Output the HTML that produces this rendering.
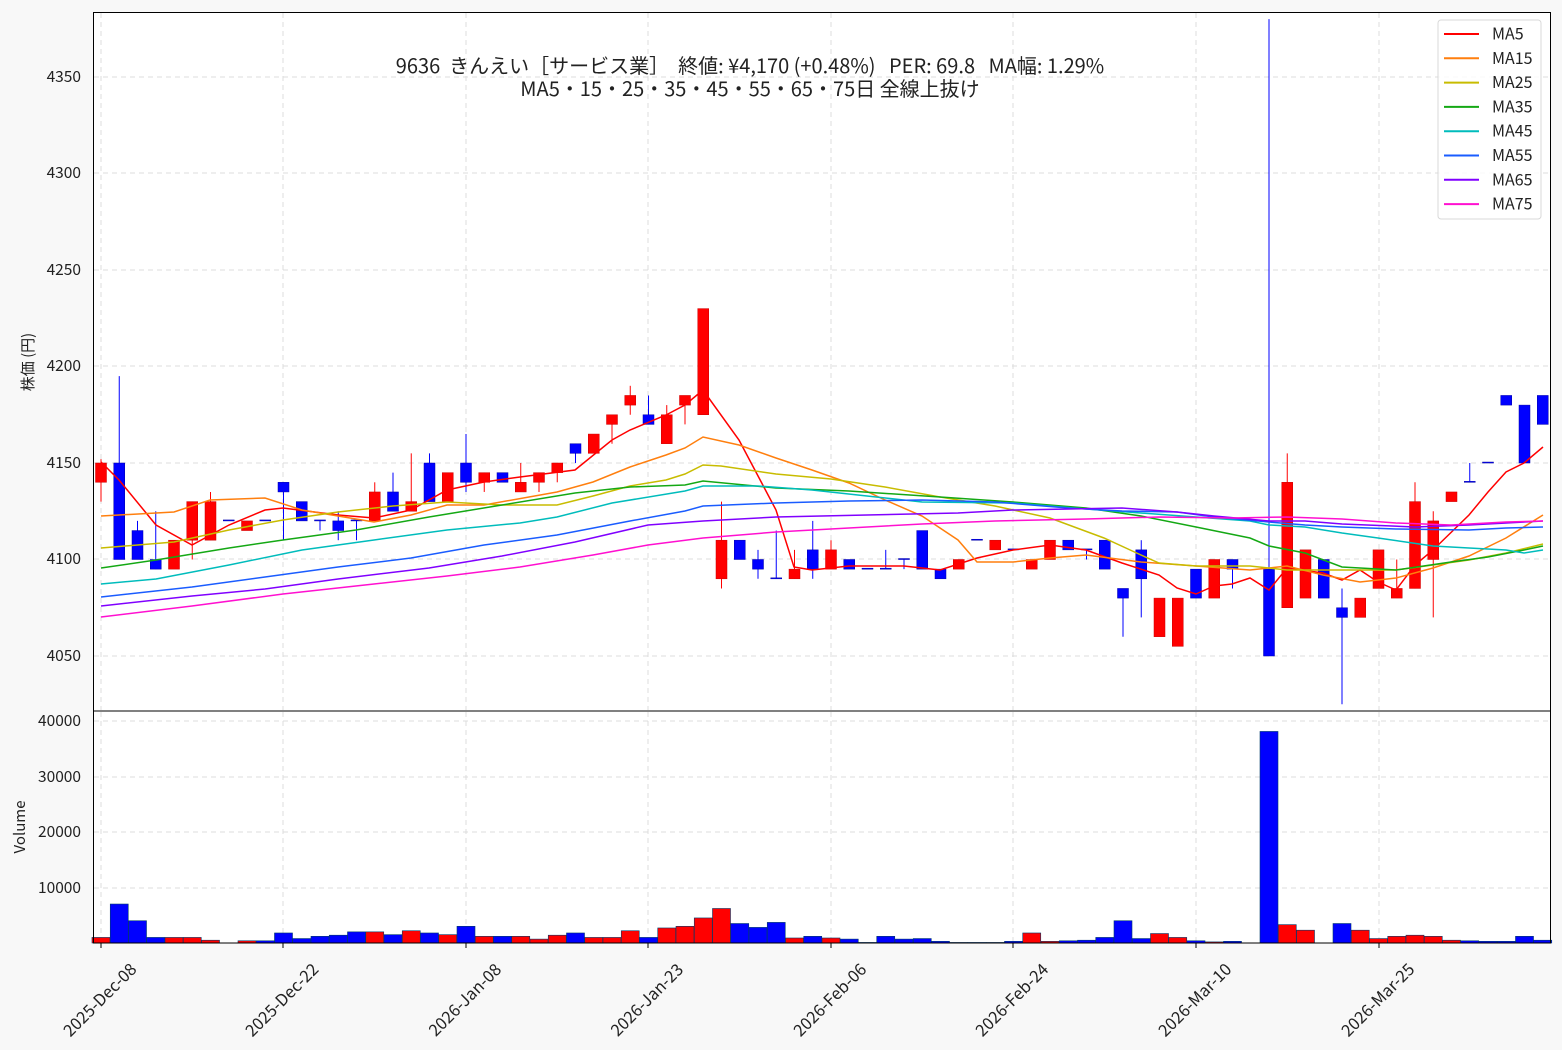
<!DOCTYPE html>
<html><head><meta charset="utf-8"><style>
html,body{margin:0;padding:0;background:#f8f8f8;}
svg{display:block;font-family:"Noto Sans CJK JP","Liberation Sans",sans-serif;}
</style></head><body>
<svg id="s" width="1562" height="1050" xmlns="http://www.w3.org/2000/svg">
<rect x="93" y="12" width="1458" height="931" fill="#fff"/>
<g id="grid" stroke="#dcdcdc" stroke-dasharray="5,4" stroke-width="1"></g>
<g id="vol"></g>
<g id="cand"></g>
<g id="ma" fill="none" stroke-width="1.5"></g>
<rect x="93.5" y="12.5" width="1457" height="698.5" fill="none" stroke="#000"/>
<rect x="93.5" y="711" width="1457" height="232" fill="none" stroke="#000"/>
<g font-size="15.5" fill="#222" text-anchor="end">
<text x="81" y="82">4350</text><text x="81" y="178">4300</text><text x="81" y="275">4250</text>
<text x="81" y="371">4200</text><text x="81" y="468">4150</text><text x="81" y="564">4100</text>
<text x="81" y="661">4050</text>
<text x="81" y="726">40000</text><text x="81" y="782">30000</text><text x="81" y="837">20000</text><text x="81" y="893">10000</text>
</g>
<text transform="translate(33,362) rotate(-90)" font-size="15" text-anchor="middle" fill="#222">株価 (円)</text>
<text transform="translate(25,827) rotate(-90)" font-size="15" text-anchor="middle" fill="#222">Volume</text>
<g font-size="16.5" fill="#222" text-anchor="middle">
<text transform="translate(104,1004) rotate(-45)">2025-Dec-08</text>
<text transform="translate(286,1004) rotate(-45)">2025-Dec-22</text>
<text transform="translate(469,1004) rotate(-45)">2026-Jan-08</text>
<text transform="translate(651,1004) rotate(-45)">2026-Jan-23</text>
<text transform="translate(834,1004) rotate(-45)">2026-Feb-06</text>
<text transform="translate(1016,1004) rotate(-45)">2026-Feb-24</text>
<text transform="translate(1199,1004) rotate(-45)">2026-Mar-10</text>
<text transform="translate(1382,1004) rotate(-45)">2026-Mar-25</text>
</g>
<g font-size="20" fill="#222" text-anchor="middle">
<text x="750" y="73">9636&#160;&#160;きんえい［サービス業］&#160;&#160;終値: ¥4,170 (+0.48%)&#160;&#160;&#160;PER: 69.8&#160;&#160;&#160;MA幅: 1.29%</text>
<text x="750" y="96">MA5・15・25・35・45・55・65・75日 全線上抜け</text>
</g>
<rect x="1438" y="20" width="103" height="199" rx="3" fill="#fff" fill-opacity="0.85" stroke="#d8d8d8"/>
<g id="leg" font-size="16" fill="#222"></g>
</svg>
<script>
const NS="http://www.w3.org/2000/svg";
function el(p,t,a){const e=document.createElementNS(NS,t);for(const k in a)e.setAttribute(k,a[k]);document.getElementById(p).appendChild(e);return e;}
const Y=p=>656-(p-4050)*1.93, X=i=>101+18.25*i, V=v=>943-v*0.005567;
[77,173,270,366,463,559,656,721,777,832,888].forEach(y=>el("grid","line",{x1:94,x2:1550,y1:y,y2:y}));
[101,283,466,648,831,1013,1196,1379].forEach(x=>{el("grid","line",{x1:x,x2:x,y1:13,y2:710});el("grid","line",{x1:x,x2:x,y1:712,y2:942});el("grid","line",{x1:x,x2:x,y1:943,y2:948,stroke:"#000","stroke-dasharray":"none"});});
const C=[["r",4140,4150,4130,4152],["b",4100,4150,4100,4195],["b",4100,4115,4100,4120],["b",4095,4100,4095,4125],["r",4095,4110],["r",4110,4130,4100,4130],["r",4110,4130,4110,4135],["b",4120,4120.5],["r",4115,4120],["b",4120,4120.5],["b",4135,4140,4110,4140],["b",4120,4130],["b",4120,4120.5,4115,4120],["b",4115,4120,4110,4125],["b",4120,4120.5,4110,4120],["r",4120,4135,4120,4140],["b",4125,4135,4125,4145],["r",4125,4130,4125,4155],["b",4130,4150,4130,4155],["r",4130,4145],["b",4140,4150,4135,4165],["r",4140,4145,4135,4145],["b",4140,4145],["r",4135,4140,4135,4150],["r",4140,4145,4135,4145],["r",4145,4150,4140,4150],["b",4155,4160,4150,4160],["r",4155,4165],["r",4170,4175,4160,4175],["r",4180,4185,4175,4190],["b",4170,4175,4170,4185],["r",4160,4175,4160,4180],["r",4180,4185,4170,4185],["r",4175,4230],["r",4090,4110,4085,4130],["b",4100,4110],["b",4095,4100,4090,4105],["b",4090,4090.5,4090,4115],["r",4090,4095,4090,4105],["b",4095,4105,4090,4120],["r",4095,4105,4095,4110],["b",4095,4100],["b",4095,4095.5],["b",4095,4095.5,4095,4105],["b",4100,4100.5,4095,4100],["b",4095,4115],["b",4090,4095],["r",4095,4100],["b",4110,4110.5],["r",4105,4110],["b",4105,4105.5],["r",4095,4100],["r",4100,4110],["b",4105,4110],["b",4105,4105.5,4100,4105],["b",4095,4110],["b",4080,4085,4060,4085],["b",4090,4105,4070,4110],["r",4060,4080],["r",4055,4080],["b",4080,4095],["r",4080,4100],["b",4095,4100,4085,4100],null,["b",4050,4095,4050,4380],["r",4075,4140,4075,4155],["r",4080,4105],["b",4080,4100],["b",4070,4075,4025,4085],["r",4070,4080],["r",4085,4105],["r",4080,4085,4080,4100],["r",4085,4130,4085,4140],["r",4100,4120,4070,4125],["r",4130,4135],["b",4140,4140.5,4140,4150],["b",4150,4150.5],["b",4180,4185],["b",4150,4180],["b",4170,4185]];
C.forEach((c,i)=>{if(!c)return;const col=c[0]=="r"?"#ff0000":"#0000ff",x=X(i);
 if(c[3]!==undefined)el("cand","line",{x1:x,x2:x,y1:Y(c[4]),y2:Y(c[3]),stroke:col,"stroke-width":1});
 const t=Y(c[2]),b=Y(c[1]);el("cand","rect",{x:x-5.5,y:t,width:11,height:Math.max(1,b-t),fill:col,stroke:c[0]=="r"?"#cc0000":"#0000aa","stroke-width":0.5});});
const VO=[[1000,"r"],[7000,"b"],[4000,"b"],[1000,"b"],[1000,"r"],[1000,"r"],[500,"r"],[0,"b"],[400,"r"],[400,"b"],[1800,"b"],[800,"b"],[1200,"b"],[1400,"b"],[2000,"b"],[2000,"r"],[1500,"b"],[2200,"r"],[1800,"b"],[1500,"r"],[3000,"b"],[1200,"r"],[1200,"b"],[1200,"r"],[700,"r"],[1400,"r"],[1800,"b"],[1000,"r"],[1000,"r"],[2200,"r"],[1000,"b"],[2700,"r"],[3000,"r"],[4500,"r"],[6200,"r"],[3500,"b"],[2800,"b"],[3700,"b"],[900,"r"],[1200,"b"],[900,"r"],[700,"b"],[100,"b"],[1200,"b"],[700,"b"],[800,"b"],[300,"b"],[100,"r"],[100,"b"],[100,"r"],[300,"b"],[1800,"r"],[300,"r"],[400,"b"],[500,"b"],[1000,"b"],[4000,"b"],[800,"b"],[1700,"r"],[1000,"r"],[400,"b"],[200,"r"],[300,"b"],[0,"b"],[38000,"b"],[3300,"r"],[2300,"r"],[0,"b"],[3500,"b"],[2300,"r"],[800,"r"],[1200,"r"],[1400,"r"],[1200,"r"],[500,"r"],[400,"b"],[300,"b"],[300,"b"],[1200,"b"],[500,"b"]];
VO.forEach((v,i)=>{if(!v[0])return;const t=V(v[0]);el("vol","rect",{x:X(i)-9,y:t,width:18,height:943-t,fill:v[1]=="r"?"#ff0000":"#0000ff",stroke:"#003a6a","stroke-width":0.6});});
const MA={
"#ff0000":"101,462 119,480 156,525 192,545 229,525 265,510 283,508 338,515 374,518 411,510 447,490 484,482 520,477 575,470 612,440 630,430 666,415 685,405 703,390 739,440 776,510 794,567 812,570 849,566 904,566 940,570 977,558 1013,550 1050,545 1086,550 1122,563 1159,575 1177,588 1196,594 1214,586 1232,584 1250,578 1269,590 1287,568 1323,573 1342,580 1360,570 1378,582 1396,590 1415,565 1433,550 1469,515 1488,492 1506,472 1524,463 1543,447",
"#ff7f0e":"101,516 156,513 174,512 210,500 265,498 302,510 374,522 411,515 447,505 484,505 557,492 593,482 630,467 666,455 685,448 703,437 739,445 776,458 812,470 849,483 885,500 922,516 958,540 977,562 1013,562 1050,558 1086,555 1141,562 1196,566 1250,570 1287,566 1323,575 1360,582 1396,578 1433,568 1469,556 1506,538 1543,515",
"#c8bc00":"101,548 174,542 229,530 283,520 338,512 393,506 447,502 502,505 557,505 593,496 630,486 666,480 685,474 703,465 721,466 776,474 831,479 885,487 940,497 995,506 1050,518 1104,538 1141,555 1159,563 1196,566 1250,566 1287,570 1323,570 1360,570 1396,570 1433,565 1469,560 1506,553 1543,544",
"#14a814":"101,568 156,560 229,548 283,540 356,530 429,517 502,505 575,493 630,487 685,485 703,481 776,488 849,491 940,497 1013,502 1086,508 1141,516 1196,527 1250,538 1269,546 1305,553 1342,567 1396,570 1451,562 1488,557 1524,550 1543,546",
"#00bcbc":"101,584 156,579 229,565 302,550 374,540 447,530 520,523 557,517 612,503 685,491 703,486 758,486 812,490 867,496 922,502 1013,503 1086,509 1141,513 1196,517 1250,521 1269,525 1305,527 1342,533 1378,538 1433,546 1469,548 1506,550 1524,553 1543,550",
"#1a5cff":"101,597 192,587 265,577 338,567 411,558 484,545 557,535 630,521 685,511 703,506 776,503 849,501 922,500 995,502 1068,508 1122,511 1177,512 1214,517 1269,522 1305,525 1342,527 1396,529 1469,530 1506,528 1543,527",
"#8000ff":"101,606 192,596 265,589 338,579 429,568 502,556 575,542 648,525 703,521 776,517 867,515 958,513 1013,510 1122,508 1177,512 1214,516 1269,521 1305,521 1342,524 1415,527 1469,525 1543,521",
"#ff10d0":"101,617 192,606 283,594 374,584 447,576 520,567 593,555 648,545 703,538 776,532 849,528 922,524 995,521 1086,519 1159,517 1232,518 1287,517 1342,519 1396,523 1451,525 1506,522 1543,521"};
const names=["MA5","MA15","MA25","MA35","MA45","MA55","MA65","MA75"];
Object.keys(MA).forEach((c,k)=>{el("ma","polyline",{points:MA[c],stroke:c});
 const y=34+24.3*k;el("leg","line",{x1:1444,x2:1479,y1:y,y2:y,stroke:c,"stroke-width":2});
 const t=el("leg","text",{x:1492,y:y+5.5});t.textContent=names[k];});
</script>
</body></html>
